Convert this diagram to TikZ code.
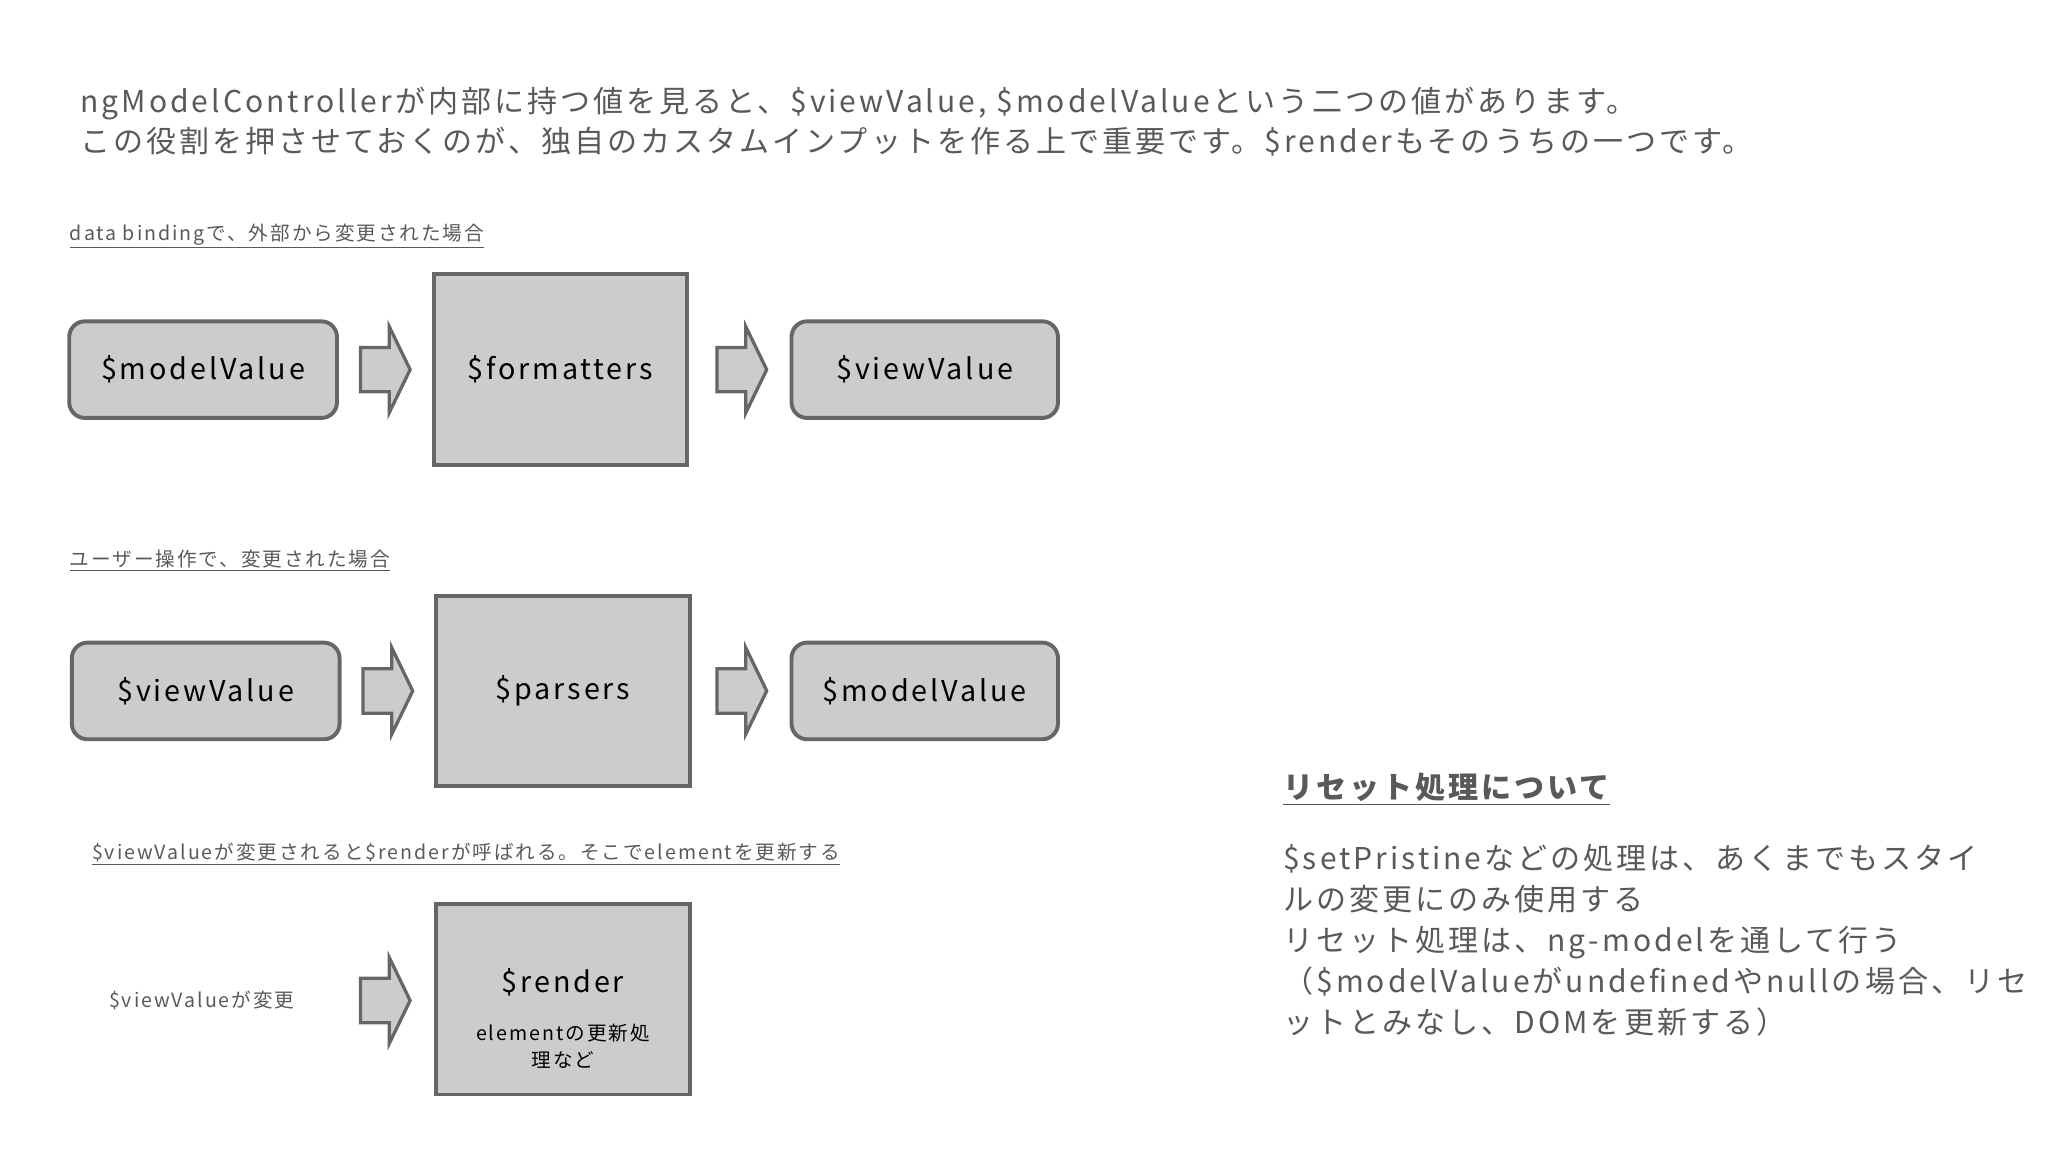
\documentclass[tikz,border=0pt]{standalone}
\usepackage{fontspec}
\setmainfont{Noto Sans CJK JP}[LetterSpace=10]
\definecolor{tg}{HTML}{595959}
\definecolor{bf}{HTML}{CCCCCC}
\definecolor{bd}{HTML}{666666}
\tikzset{
 rbox/.style={draw=bd,fill=bf,line width=3pt,rounded corners=12pt,font=\fontsize{22}{26}\selectfont},
 sbox/.style={draw=bd,fill=bf,line width=3pt,font=\fontsize{22}{26}\selectfont},
 lab/.style={anchor=west,text=tg,font=\fontsize{15}{18}\selectfont},
 blk/.style={draw=bd,fill=bf,line width=2.5pt,line join=miter},
}
\newcommand{\blockarrow}[3]{% x0 ycenter name
 \draw[blk] (#1,#2-17) -- (#1+22,#2-17) -- (#1+22,#2-33) -- (#1+38,#2) -- (#1+22,#2+33) -- (#1+22,#2+17) -- (#1,#2+17) -- cycle;
 \coordinate (#3) at (#1+19,#2);}
\begin{document}
\begin{tikzpicture}[x=1pt,y=-1pt]
\useasboundingbox (0,0) rectangle (1568,882);
\node[anchor=west,text=tg,font=\fontsize{23}{31}\selectfont,align=left] (title) at (58,93)
 {ngModelControllerが内部に持つ値を見ると、\$viewValue, \$modelValueという二つの値があります。\\
  この役割を押させておくのが、独自のカスタムインプットを作る上で重要です。\$renderもそのうちの一つです。};
\node[lab] (l1) at (50,181) {\underline{data bindingで、外部から変更された場合}};
\node[rbox,minimum width=205pt,minimum height=74pt] (mv1) at (155.5,283) {\$modelValue};
\blockarrow{276}{283}{a1}
\node[sbox,minimum width=194pt,minimum height=146pt] (fm) at (429,283) {\$formatters};
\blockarrow{549}{283}{a2}
\node[rbox,minimum width=204pt,minimum height=74pt] (vv1) at (708,283) {\$viewValue};

\node[lab] (l2) at (50,429) {\underline{ユーザー操作で、変更された場合}};
\node[rbox,minimum width=205pt,minimum height=74pt] (vv2) at (157.5,529) {\$viewValue};
\blockarrow{278}{529}{a3}
\node[sbox,minimum width=194pt,minimum height=146pt] (ps) at (431,529) {\$parsers};
\blockarrow{549}{529}{a4}
\node[rbox,minimum width=204pt,minimum height=74pt] (mv2) at (708,529) {\$modelValue};

\node[lab] (l3) at (67,654) {\underline{\$viewValueが変更されると\$renderが呼ばれる。そこでelementを更新する}};
\node[lab] (t3) at (80,766) {\$viewValueが変更};
\blockarrow{276}{766}{a5}
\node[sbox,minimum width=194pt,minimum height=146pt] (rd) at (431,765) {};
\node[font=\fontsize{22}{26}\selectfont] (rdt) at (431,752) {\$render};
\node[font=\fontsize{15}{21}\selectfont,align=center] (rds) at (431,801) {elementの更新処\\理など};

\node[anchor=west,text=tg,font=\fontsize{23}{28}\bfseries\selectfont] (rh) at (979,604) {\underline{リセット処理について}};
\node[anchor=north west,text=tg,font=\fontsize{23}{31.3}\selectfont,align=left] (rp) at (979,643)
 {\$setPristineなどの処理は、あくまでもスタイ\\
  ルの変更にのみ使用する\\
  リセット処理は、ng-modelを通して行う\\
  （\$modelValueがundefinedやnullの場合、リセ\\
  ットとみなし、DOMを更新する）};
\end{tikzpicture}
\end{document}
